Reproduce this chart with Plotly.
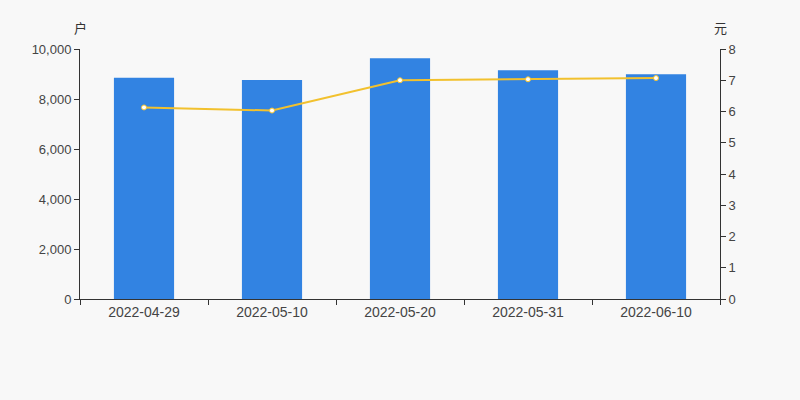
import plotly.graph_objects as go

categories = ["2022-04-29", "2022-05-10", "2022-05-20", "2022-05-31", "2022-06-10"]
holders = [8850, 8760, 9630, 9150, 8990]
price = [6.13, 6.03, 7.00, 7.03, 7.07]

fig = go.Figure()
fig.add_trace(go.Bar(x=categories, y=holders, marker_color="#3283e2", width=0.47,
                     marker_line_width=0, name="户数", yaxis="y"))
fig.add_trace(go.Scatter(x=categories, y=price, mode="lines+markers", yaxis="y2",
                         line=dict(color="#f2c12e", width=2),
                         marker=dict(color="#ffffff", size=5, line=dict(color="#f2c12e", width=1)),
                         name="价格"))

yfont = dict(family="Liberation Sans, Arial, sans-serif", size=13, color="#444")
xfont = dict(family="Liberation Sans, Arial, sans-serif", size=14, color="#444")
fig.update_layout(
    width=800, height=400,
    margin=dict(l=80, r=80, t=49, b=101),
    paper_bgcolor="#f8f8f8", plot_bgcolor="#f8f8f8",
    showlegend=False,
    xaxis=dict(type="category", tickson="boundaries", ticks="outside", ticklen=5,
               tickcolor="#333", showline=True, linecolor="#333", linewidth=1,
               showgrid=False, tickfont=xfont, zeroline=False),
    yaxis=dict(range=[0, 10000], dtick=2000, tickformat=",d", ticks="outside", ticklen=5,
               tickcolor="#333", showline=True, linecolor="#333", showgrid=False,
               zeroline=False, tickfont=yfont),
    yaxis2=dict(range=[0, 8], dtick=1, overlaying="y", side="right", ticks="outside",
                ticklen=5, tickcolor="#333", showline=True, linecolor="#333",
                showgrid=False, zeroline=False, tickfont=yfont),
    annotations=[
        dict(text="户", x=0, y=1.0, xref="paper", yref="paper", yshift=22,
             xanchor="center", yanchor="middle",
             showarrow=False, font=dict(family="Noto Sans CJK SC", size=13, color="#333")),
        dict(text="元", x=1, y=1.0, xref="paper", yref="paper", yshift=22,
             xanchor="center", yanchor="middle",
             showarrow=False, font=dict(family="Noto Sans CJK SC", size=13, color="#333")),
    ],
)
fig.write_html("out.html", config={"displayModeBar": False})
with open("out.html", encoding="utf-8") as f:
    html = f.read()
html = html.replace("<body>", '<body style="margin:0;background:#f8f8f8">', 1)
with open("out.html", "w", encoding="utf-8") as f:
    f.write(html)
